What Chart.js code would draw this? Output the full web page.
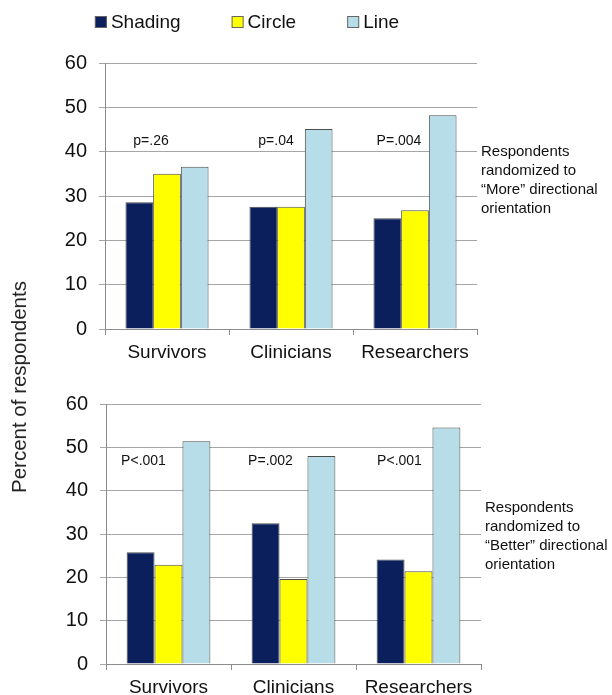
<!DOCTYPE html>
<html>
<head>
<meta charset="utf-8">
<script src="https://cdn.jsdelivr.net/npm/chart.js@4/dist/chart.umd.min.js"></script>
<style>
  html, body { margin: 0; padding: 0; background: #fff; }
  body { width: 612px; height: 695px; position: relative; overflow: hidden;
         font-family: "Liberation Sans", Arial, sans-serif; }
  #topChart { position: absolute; left: 0; top: 0; }
  #bottomChart { position: absolute; left: 0; top: 380px; }
  #ytitle { position: absolute; left: 19px; top: 387px; transform: translate(-50%, -50%) rotate(-90deg);
            font-size: 20.5px; color: #222; white-space: nowrap; }
</style>
</head>
<body>
<canvas id="topChart" width="612" height="370"></canvas>
<canvas id="bottomChart" width="612" height="315"></canvas>
<div id="ytitle">Percent of respondents</div>
<script>
// Respondent groups and the three display formats
const categories = ['Survivors', 'Clinicians', 'Researchers'];
const seriesNames = ['Shading', 'Circle', 'Line'];

// "More" directional orientation (percent of respondents)
const moreShading = [28.6, 27.6, 25.0];
const moreCircle  = [35.0, 27.6, 26.8];
const moreLine    = [36.6, 45.1, 48.2];
const morePValues = ['p=.26', 'p=.04', 'P=.004'];
const moreNote = ['Respondents', 'randomized to', '\u201cMore\u201d directional', 'orientation'];

// "Better" directional orientation (percent of respondents)
const betterShading = [25.8, 32.5, 24.1];
const betterCircle  = [22.9, 19.6, 21.4];
const betterLine    = [51.4, 48.0, 54.6];
const betterPValues = ['P<.001', 'P=.002', 'P<.001'];
const betterNote = ['Respondents', 'randomized to', '\u201cBetter\u201d directional', 'orientation'];

// Value axis
const yMin = 0, yMax = 60, yStep = 10;

const seriesColors = ['#0a1f5c', '#ffff00', '#b7dee8'];
const FONT = '"Liberation Sans", Arial, sans-serif';

function makeDatasets(values) {
  return values.map((vals, i) => ({
    label: seriesNames[i],
    data: vals,
    backgroundColor: seriesColors[i],
    borderColor: '#4d4d4d',
    borderWidth: 1,
    categoryPercentage: 0.67,
    barPercentage: 1.0
  }));
}

// Draws p-value labels over each group and the note to the right of the plot
const notesPlugin = {
  id: 'notes',
  afterDatasetsDraw(chart, args, opts) {
    const { ctx, chartArea } = chart;
    const x = chart.scales.x, y = chart.scales.y;
    ctx.save();
    ctx.fillStyle = '#111';
    ctx.textBaseline = 'middle';
    ctx.textAlign = 'center';
    ctx.font = '14px ' + FONT;
    opts.pValues.forEach((t, i) => {
      ctx.fillText(t, x.getPixelForValue(i) + opts.pShift[i], y.getPixelForValue(opts.pLevel));
    });
    ctx.textAlign = 'left';
    ctx.font = '15px ' + FONT;
    opts.note.forEach((t, i) => {
      ctx.fillText(t, chartArea.right + 4, chartArea.top + opts.noteTop + i * 19);
    });
    ctx.restore();
  }
};

// Legend row above the upper chart
const legendRow = {
  id: 'legendRow',
  afterDraw(chart, args, opts) {
    if (!opts.show) return;
    const ctx = chart.ctx;
    ctx.save();
    ctx.font = '19px ' + FONT;
    ctx.textBaseline = 'middle';
    const box = 12, textGap = 4, itemGap = 51;
    const items = chart.data.datasets.map(ds => ({
      text: ds.label, fill: ds.backgroundColor, w: ctx.measureText(ds.label).width
    }));
    const total = items.reduce((s, it) => s + box + textGap + it.w, 0) + itemGap * (items.length - 1);
    let cx = opts.center - total / 2;
    items.forEach(it => {
      ctx.fillStyle = it.fill;
      ctx.fillRect(cx, opts.y - box / 2, box, box);
      ctx.strokeStyle = '#666';
      ctx.lineWidth = 1;
      ctx.strokeRect(cx + 0.5, opts.y - box / 2 + 0.5, box - 1, box - 1);
      ctx.fillStyle = '#111';
      ctx.fillText(it.text, cx + box + textGap, opts.y + 1);
      cx += box + textGap + it.w + itemGap;
    });
    ctx.restore();
  }
};

function makeChart(canvasId, values, pValues, pLevel, pShift, note, noteTop, padding, xHeight, yWidth, showLegend) {
  return new Chart(document.getElementById(canvasId), {
    type: 'bar',
    data: { labels: categories, datasets: makeDatasets(values) },
    options: {
      responsive: false,
      animation: false,
      devicePixelRatio: 1,
      layout: { padding },
      plugins: {
        legend: { display: false },
        tooltip: { enabled: false },
        notes: { pValues, pLevel, pShift, note, noteTop },
        legendRow: { show: showLegend, center: 247, y: 22 }
      },
      scales: {
        x: {
          afterFit(scale) { scale.height = xHeight; },
          grid: { drawOnChartArea: false, drawTicks: true, tickLength: 6, color: '#8c8c8c', offset: true },
          border: { color: '#8c8c8c' },
          ticks: { color: '#111', font: { family: FONT, size: 19 }, padding: 6, maxRotation: 0 }
        },
        y: {
          min: yMin, max: yMax,
          afterFit(scale) { scale.width = yWidth; },
          grid: { color: '#a6a6a6', tickLength: 6 },
          border: { color: '#8c8c8c' },
          ticks: { stepSize: yStep, color: '#111', font: { family: FONT, size: 20 }, padding: 12 }
        }
      }
    },
    plugins: [notesPlugin, legendRow]
  });
}

makeChart('topChart', [moreShading, moreCircle, moreLine], morePValues, 42.3, [-16, -15, -16],
  moreNote, 89, { top: 63, right: 135, bottom: 0, left: 0 }, 41, 105, true);

makeChart('bottomChart', [betterShading, betterCircle, betterLine], betterPValues, 46.7, [-25, -23, -19],
  betterNote, 104, { top: 16, right: 131, bottom: 0, left: 0 }, 31, 106, false);
</script>
</body>
</html>
